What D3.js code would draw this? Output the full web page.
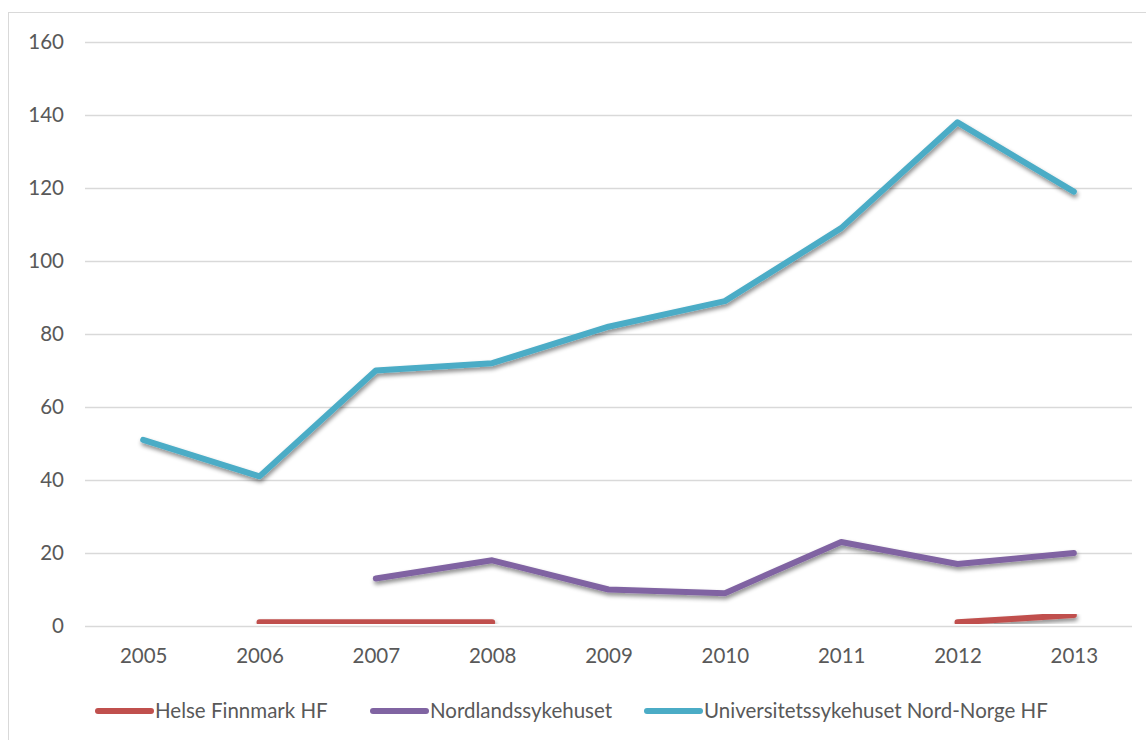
<!DOCTYPE html>
<html>
<head>
<meta charset="utf-8">
<script src="https://cdn.jsdelivr.net/npm/d3@7"></script>
<style>
  body { margin: 0; background: #fff; }
  text { font-family: Lato, "Open Sans", sans-serif; fill: #595959; }
</style>
</head>
<body>
<svg id="chart" width="1146" height="740"></svg>
<script>
var years = ["2005", "2006", "2007", "2008", "2009", "2010", "2011", "2012", "2013"];
var yTicks = [0, 20, 40, 60, 80, 100, 120, 140, 160];
var seriesNames = ["Helse Finnmark HF", "Nordlandssykehuset", "Universitetssykehuset Nord-Norge HF"];
var seriesColors = ["#C0504D", "#8064A2", "#4BACC6"];
// null = no value that year
var finnmark = [null, 1, 1, 1, null, null, null, 1, 3];
var nordland = [null, null, 13, 18, 10, 9, 23, 17, 20];
var unn = [51, 41, 70, 72, 82, 89, 109, 138, 119];
var allSeries = [finnmark, nordland, unn];

var svg = d3.select("#chart");

// outer frame
svg.append("rect").attr("x", 8.5).attr("y", 12.5).attr("width", 1150).attr("height", 740)
  .attr("fill", "none").attr("stroke", "#d9d9d9").attr("stroke-width", 1);

var defs = svg.append("defs");
var f = defs.append("filter").attr("id", "shadow").attr("x", "-10%").attr("y", "-10%").attr("width", "120%").attr("height", "130%");
f.append("feDropShadow").attr("dx", 1).attr("dy", 3).attr("stdDeviation", 2)
  .attr("flood-color", "#000").attr("flood-opacity", 0.45);

var plotLeft = 85, plotRight = 1132, plotTop = 42, plotBottom = 626;

var x = d3.scalePoint().domain(years).range([plotLeft, plotRight]).padding(0.5);
var y = d3.scaleLinear().domain([0, 160]).range([plotBottom, plotTop]);

// gridlines
svg.append("g").selectAll("line").data(yTicks).enter().append("line")
  .attr("x1", plotLeft).attr("x2", plotRight)
  .attr("y1", function(d) { return y(d) + 0.5; }).attr("y2", function(d) { return y(d) + 0.5; })
  .attr("stroke", "#d9d9d9").attr("stroke-width", 1.5);

// y axis labels
var yAxis = svg.append("g").attr("transform", "translate(" + (plotLeft - 21) + ",0)")
  .call(d3.axisLeft(y).tickValues(yTicks).tickSize(0).tickPadding(0));
yAxis.select(".domain").remove();
yAxis.selectAll("text").style("font-size", "20.5px").attr("fill", "#595959");

// x axis labels
var xAxis = svg.append("g").attr("transform", "translate(0," + (plotBottom + 22) + ")")
  .call(d3.axisBottom(x).tickSize(0).tickPadding(0));
xAxis.select(".domain").remove();
xAxis.selectAll("text").style("font-size", "20.5px").attr("fill", "#595959");

var line = d3.line()
  .defined(function(d) { return d != null; })
  .x(function(d, i) { return x(years[i]); })
  .y(function(d) { return y(d); });

svg.append("g").selectAll("path").data(allSeries).enter().append("path")
  .attr("d", line)
  .attr("fill", "none")
  .attr("stroke", function(d, i) { return seriesColors[i]; })
  .attr("stroke-width", 6)
  .attr("stroke-linecap", "round")
  .attr("stroke-linejoin", "round")
  .attr("filter", "url(#shadow)");

// legend
var legendX = [98, 373, 647];
var lg = svg.append("g").selectAll("g").data(seriesNames).enter().append("g")
  .attr("transform", function(d, i) { return "translate(" + legendX[i] + ",711)"; });
lg.append("line").attr("x1", 0).attr("x2", 53).attr("y1", 0).attr("y2", 0)
  .attr("stroke", function(d, i) { return seriesColors[i]; })
  .attr("stroke-width", 6).attr("stroke-linecap", "round");
lg.append("text").attr("x", 57).attr("y", 0).attr("dy", "0.35em")
  .style("font-size", "20.5px").text(function(d) { return d; });
</script>
</body>
</html>
